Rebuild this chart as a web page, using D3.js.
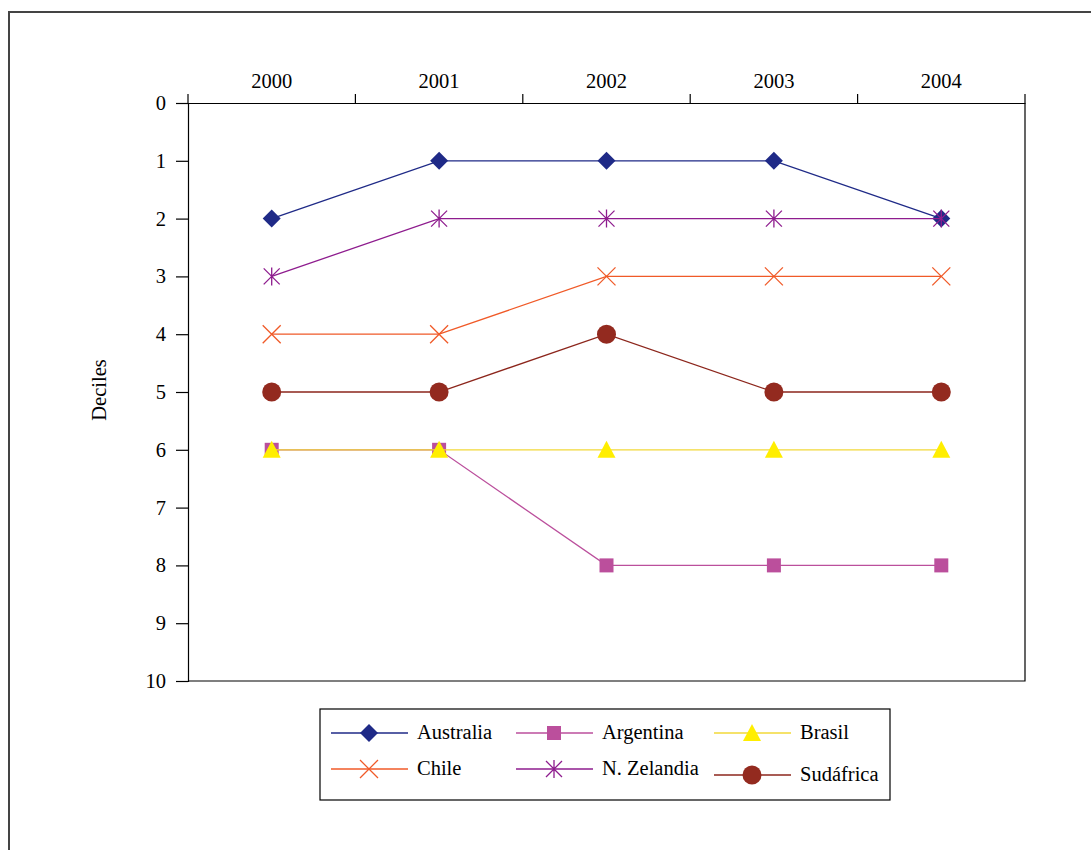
<!DOCTYPE html>
<html><head><meta charset="utf-8">
<script src="https://cdn.jsdelivr.net/npm/d3@7"></script>
<style>body{margin:0;background:#fff}svg{display:block}text{font-family:"Liberation Serif","Times New Roman",serif;fill:#000}</style>
</head><body>
<script>
const years = ["2000","2001","2002","2003","2004"];
const seriesNames = ["Australia","Argentina","Brasil","Chile","N. Zelandia","Sudáfrica"];
const australia = [2,1,1,1,2];
const argentina = [6,6,8,8,8];
const brasil = [6,6,6,6,6];
const chile = [4,4,3,3,3];
const nzelandia = [3,2,2,2,2];
const sudafrica = [5,5,4,5,5];
const yTicks = [0,1,2,3,4,5,6,7,8,9,10];
const yLabel = "Deciles";

const seriesValues = [australia, argentina, brasil, chile, nzelandia, sudafrica];
const colors = ["#1f2a87","#bb4f9c","#f2d838","#f05a28","#8e1c8e","#8c261c"];
const fills = ["#1f2a87","#bb4f9c","#ffee00","none","none","#932a1f"];
const shapes = ["diamond","square","triangle","x","star","circle"];
const FS = "20.5px";

const W=1091,H=850;
const svg=d3.select("body").append("svg").attr("width",W).attr("height",H);
svg.append("path").attr("d",`M9,${H+5} L9,12 L${W+5},12`).attr("fill","none").attr("stroke","#444").attr("stroke-width",2);

const L=188,R=1025,T=103,B=681;
const x=d3.scaleBand().domain(years).range([L,R]);
const y=d3.scaleLinear().domain([0,10]).range([T,B]);

svg.append("path").attr("d",`M${R},${T} L${R},${B} L${L},${B}`).attr("fill","none").attr("stroke","#000").attr("stroke-width",1.2);

const yAxis=d3.axisLeft(y).tickValues(yTicks).tickSize(12).tickPadding(10).tickFormat(d3.format("d"));
const gy=svg.append("g").attr("transform",`translate(${L},0)`).call(yAxis);
gy.attr("font-family",null).attr("font-size",null);
gy.select(".domain").attr("stroke","#000").attr("stroke-width",1.2);
gy.selectAll(".tick line").attr("stroke","#000").attr("stroke-width",1.2);
gy.selectAll("text").style("font-size",FS);

const xAxis=d3.axisTop(x).tickSize(0).tickPadding(15);
const gx=svg.append("g").attr("transform",`translate(0,${T})`).call(xAxis);
gx.attr("font-family",null).attr("font-size",null);
gx.select(".domain").attr("stroke","#000").attr("stroke-width",1.2);
gx.selectAll("text").style("font-size",FS);
const bounds=years.map(d=>x(d)).concat([R]);
svg.append("g").selectAll("line").data(bounds).join("line")
 .attr("x1",d=>d).attr("x2",d=>d).attr("y1",T-9).attr("y2",T).attr("stroke","#000").attr("stroke-width",1.2);

svg.append("text").attr("transform",`translate(106,${(T+B)/2-2}) rotate(-90)`).attr("text-anchor","middle")
 .style("font-size",FS).text(yLabel);

function marker(g,shape,cx,cy,color,fill){
  if(shape==="diamond"){
    g.append("path").attr("d",`M${cx},${cy-9} L${cx+9},${cy} L${cx},${cy+9} L${cx-9},${cy} Z`).attr("fill",fill);
  } else if(shape==="square"){
    g.append("rect").attr("x",cx-7).attr("y",cy-7).attr("width",14).attr("height",14).attr("fill",fill);
  } else if(shape==="triangle"){
    g.append("path").attr("d",`M${cx},${cy-9} L${cx+9},${cy+8} L${cx-9},${cy+8} Z`).attr("fill",fill);
  } else if(shape==="x"){
    g.append("path").attr("d",`M${cx-9},${cy-9} L${cx+9},${cy+9} M${cx-9},${cy+9} L${cx+9},${cy-9}`).attr("stroke",color).attr("stroke-width",1.3);
  } else if(shape==="star"){
    g.append("path").attr("d",`M${cx-8},${cy-8} L${cx+8},${cy+8} M${cx-8},${cy+8} L${cx+8},${cy-8} M${cx},${cy-9} L${cx},${cy+9}`).attr("stroke",color).attr("stroke-width",1.3);
  } else if(shape==="circle"){
    g.append("circle").attr("cx",cx).attr("cy",cy).attr("r",9.5).attr("fill",fill);
  }
}

const line=d3.line().x((d,i)=>x(years[i])+x.bandwidth()/2).y(d=>y(d));
seriesValues.forEach((vals,si)=>{
  const g=svg.append("g");
  g.append("path").attr("d",line(vals)).attr("fill","none").attr("stroke",colors[si]).attr("stroke-width",1.3);
  vals.forEach((v,i)=>marker(g,shapes[si],x(years[i])+x.bandwidth()/2,y(v),colors[si],fills[si]));
});

svg.append("rect").attr("x",320).attr("y",709).attr("width",570).attr("height",91).attr("fill","none").attr("stroke","#000").attr("stroke-width",1.2);
const legPos=[[331,733],[516,733],[714,733],[331,769],[516,769],[714,775]];
seriesNames.forEach((n,si)=>{
  const [lx,ly]=legPos[si];
  const g=svg.append("g");
  g.append("line").attr("x1",lx).attr("x2",lx+77).attr("y1",ly).attr("y2",ly).attr("stroke",colors[si]).attr("stroke-width",1.3);
  marker(g,shapes[si],lx+38,ly,colors[si],fills[si]);
  g.append("text").attr("x",lx+86).attr("y",ly+6).style("font-size",FS).text(n);
});
</script>
</body></html>
